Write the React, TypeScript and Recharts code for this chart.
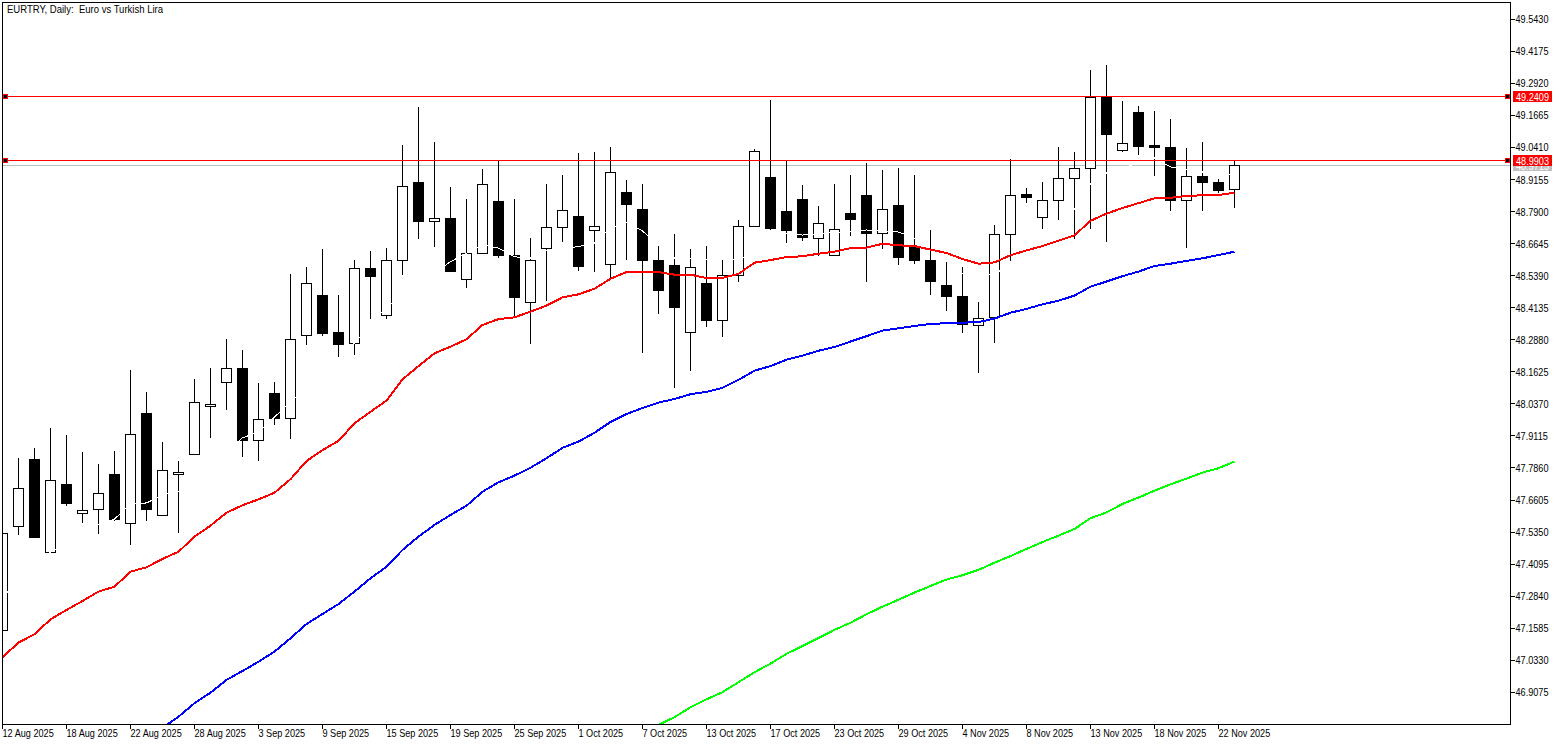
import { Bar, ComposedChart, Line, ReferenceLine, XAxis, YAxis } from "recharts";

const opens = [
  47.150, 47.558, 47.821, 47.456, 47.723, 47.609, 47.624, 47.761, 47.569, 48.001,
  47.601, 47.761, 47.840, 48.028, 48.122, 48.176, 47.894, 48.076, 47.981, 48.306,
  48.460, 48.317, 48.274, 48.569, 48.384, 48.599, 48.905, 48.752, 48.764, 48.525,
  48.627, 48.830, 48.619, 48.435, 48.646, 48.729, 48.772, 48.717, 48.584, 48.866,
  48.799, 48.599, 48.580, 48.317, 48.509, 48.364, 48.541, 48.732, 48.924, 48.791,
  48.838, 48.685, 48.619, 48.783, 48.854, 48.705, 48.815, 48.653, 48.599, 48.501,
  48.458, 48.345, 48.376, 48.701, 48.855, 48.768, 48.834, 48.920, 48.960, 49.240,
  49.030, 49.179, 49.047, 49.042, 48.834, 48.928, 48.905, 48.877,
];
const closes = [
  47.530, 47.706, 47.513, 47.738, 47.646, 47.620, 47.687, 47.583, 47.918, 47.623,
  47.777, 47.769, 48.043, 48.035, 48.176, 47.893, 47.977, 47.979, 48.290, 48.509,
  48.312, 48.269, 48.568, 48.535, 48.599, 48.888, 48.750, 48.764, 48.555, 48.627,
  48.897, 48.617, 48.453, 48.599, 48.729, 48.795, 48.574, 48.732, 48.944, 48.817,
  48.598, 48.480, 48.414, 48.572, 48.363, 48.541, 48.732, 49.026, 48.723, 48.715,
  48.688, 48.744, 48.721, 48.758, 48.703, 48.799, 48.610, 48.598, 48.516, 48.457,
  48.347, 48.372, 48.701, 48.854, 48.844, 48.834, 48.920, 48.960, 49.238, 49.091,
  49.057, 49.044, 49.040, 48.833, 48.928, 48.903, 48.872, 48.971,
];
const highs = [
  47.530, 47.825, 47.864, 47.943, 47.915, 47.849, 47.802, 47.852, 48.170, 48.084,
  47.888, 47.813, 48.134, 48.176, 48.290, 48.248, 48.118, 48.122, 48.544, 48.573,
  48.644, 48.463, 48.600, 48.636, 48.647, 49.051, 49.200, 49.063, 48.886, 48.839,
  48.957, 48.989, 48.839, 48.685, 48.898, 48.933, 49.020, 49.023, 49.043, 48.914,
  48.898, 48.655, 48.701, 48.644, 48.655, 48.604, 48.757, 49.034, 49.227, 48.988,
  48.893, 48.811, 48.898, 48.933, 48.980, 48.953, 48.961, 48.933, 48.718, 48.593,
  48.573, 48.436, 48.738, 48.996, 48.882, 48.906, 49.043, 49.023, 49.345, 49.364,
  49.223, 49.204, 49.184, 49.153, 49.039, 49.063, 48.918, 48.988,
];
const lows = [
  47.150, 47.525, 47.513, 47.456, 47.638, 47.572, 47.529, 47.580, 47.486, 47.580,
  47.601, 47.533, 47.840, 47.905, 48.014, 47.830, 47.815, 47.956, 47.901, 48.269,
  48.304, 48.222, 48.230, 48.371, 48.371, 48.543, 48.684, 48.653, 48.555, 48.492,
  48.627, 48.610, 48.378, 48.273, 48.440, 48.672, 48.559, 48.555, 48.529, 48.602,
  48.237, 48.390, 48.100, 48.167, 48.339, 48.300, 48.516, 48.732, 48.719, 48.668,
  48.676, 48.617, 48.619, 48.696, 48.516, 48.645, 48.582, 48.586, 48.465, 48.402,
  48.316, 48.159, 48.277, 48.598, 48.825, 48.723, 48.758, 48.684, 48.723, 48.672,
  49.025, 49.013, 48.931, 48.794, 48.649, 48.794, 48.864, 48.805,
];

const maRed = [
  47.045, 47.102, 47.135, 47.193, 47.230, 47.265, 47.302, 47.321, 47.380, 47.397,
  47.430, 47.458, 47.517, 47.560, 47.611, 47.640, 47.663, 47.689, 47.742, 47.813,
  47.856, 47.892, 47.961, 48.006, 48.050, 48.133, 48.185, 48.235, 48.261, 48.290,
  48.346, 48.369, 48.376, 48.398, 48.422, 48.454, 48.466, 48.488, 48.527, 48.553,
  48.553, 48.553, 48.543, 48.543, 48.530, 48.530, 48.546, 48.590, 48.600, 48.612,
  48.615, 48.625, 48.633, 48.647, 48.649, 48.664, 48.658, 48.655, 48.641, 48.628,
  48.604, 48.586, 48.591, 48.619, 48.638, 48.655, 48.676, 48.697, 48.754, 48.782,
  48.804, 48.823, 48.842, 48.844, 48.851, 48.854, 48.855, 48.864,
];
const maBlue = [
  null, null, null, null, null, null, null, null, null, null,
  46.768, 46.812, 46.865, 46.906, 46.956, 46.991, 47.027, 47.067, 47.119, 47.175,
  47.214, 47.253, 47.302, 47.354, 47.399, 47.465, 47.517, 47.563, 47.602, 47.638,
  47.693, 47.730, 47.756, 47.787, 47.824, 47.865, 47.889, 47.924, 47.966, 47.997,
  48.021, 48.042, 48.056, 48.075, 48.084, 48.100, 48.131, 48.167, 48.185, 48.210,
  48.226, 48.245, 48.260, 48.281, 48.302, 48.324, 48.333, 48.342, 48.350, 48.353,
  48.355, 48.357, 48.371, 48.394, 48.409, 48.427, 48.441, 48.461, 48.496, 48.516,
  48.537, 48.555, 48.577, 48.586, 48.597, 48.607, 48.620, 48.633,
];
const maGreen = [
  null, null, null, null, null, null, null, null, null, null,
  null, null, null, null, null, null, null, null, null, null,
  null, null, null, null, null, null, null, null, null, null,
  null, null, null, null, null, null, null, null, null, null,
  46.752, 46.780, 46.810, 46.849, 46.880, 46.908, 46.947, 46.986, 47.020, 47.058,
  47.089, 47.120, 47.152, 47.180, 47.213, 47.243, 47.270, 47.298, 47.324, 47.349,
  47.366, 47.387, 47.415, 47.441, 47.469, 47.496, 47.521, 47.547, 47.589, 47.612,
  47.645, 47.670, 47.697, 47.722, 47.744, 47.768, 47.785, 47.811,
];
// thin white average, only visible where it crosses the candles
const maWhite = [
  47.282, null, null, 47.457, null, null, 47.563, 47.586, 47.645, 47.649,
  47.680, 47.693, null, null, null, 47.904, 47.927, null, 48.044, null,
  null, null, 48.275, null, 48.417, null, null, null, 48.594, null,
  48.659, 48.647, 48.613, 48.608, 48.639, null, 48.653, 48.667, 48.726, 48.749,
  48.714, null, 48.608, null, null, null, 48.600, null, null, 48.706,
  48.698, null, null, null, 48.718, null, 48.710, 48.686, null, null,
  48.549, null, 48.541, null, null, null, null, 48.800, 48.898, 48.941,
  null, null, 49.000, 48.965, 48.953, 48.945, null, 48.933,
];

const dateLabels = [
  "12 Aug 2025", "18 Aug 2025", "22 Aug 2025", "28 Aug 2025", "3 Sep 2025",
  "9 Sep 2025", "15 Sep 2025", "19 Sep 2025", "25 Sep 2025", "1 Oct 2025",
  "7 Oct 2025", "13 Oct 2025", "17 Oct 2025", "23 Oct 2025", "29 Oct 2025",
  "4 Nov 2025", "8 Nov 2025", "13 Nov 2025", "18 Nov 2025", "22 Nov 2025",
];
const dateTicks = [0, 4, 8, 12, 16, 20, 24, 28, 32, 36, 40, 44, 48, 52, 56, 60, 64, 68, 72, 76];
const priceTicks = [
  49.543, 49.4175, 49.292, 49.1665, 49.041, 48.9155, 48.79, 48.6645, 48.539, 48.4135, 48.288,
  48.1625, 48.037, 47.9115, 47.786, 47.6605, 47.535, 47.4095, 47.284, 47.1585, 47.033, 46.9075,
];
const levelTop = 49.2409;
const levelMid = 48.9903;
const bidPrice = 48.9713;

const rows = opens.map((open, i) => ({
  i,
  open,
  close: closes[i],
  high: highs[i],
  low: lows[i],
  range: [lows[i], highs[i]],
  red: maRed[i],
  blue: maBlue[i],
  green: maGreen[i],
  white: maWhite[i],
}));

const FONT = '"Liberation Sans", sans-serif';

// the terminal font is narrower than anything installed, so squeeze it horizontally
function NarrowText({ x, y, fill = "#000", children }: any) {
  return (
    <text
      transform={`translate(${x} ${y}) scale(0.83 1)`}
      fontFamily={FONT}
      fontSize={11}
      fill={fill}
    >
      {children}
    </text>
  );
}

function Candle(props: any) {
  const { x, y, width, height, payload } = props;
  const { open, close, high, low } = payload;
  const cx = Math.floor(x + width / 2) + 0.5;
  const perUnit = height / (high - low);
  const top = y + (high - Math.max(open, close)) * perUnit;
  const bottom = y + (high - Math.min(open, close)) * perUnit;
  return (
    <g shapeRendering="crispEdges">
      <line x1={cx} x2={cx} y1={y} y2={y + height} stroke="#000" />
      <rect
        x={cx - 5}
        y={top}
        width={10}
        height={Math.max(bottom - top, 1)}
        fill={close >= open ? "#fff" : "#000"}
        stroke="#000"
      />
    </g>
  );
}

function DateTick({ x, y, payload }: any) {
  return (
    <NarrowText x={x} y={y + 8.5}>
      {dateLabels[dateTicks.indexOf(payload.value)]}
    </NarrowText>
  );
}

function PriceTick({ x, y, payload }: any) {
  return (
    <NarrowText x={x} y={y + 4}>
      {payload.value.toFixed(4)}
    </NarrowText>
  );
}

function priceLevel(value: number, color: string, handles: boolean) {
  return ({ x1, x2, y1 }: any) => {
    const cy = Math.floor(y1) + 0.5;
    return (
      <g shapeRendering="crispEdges">
        <line x1={x1} x2={x2} y1={cy} y2={cy} stroke={color} />
        {handles && <rect x={3.5} y={cy - 2} width={4} height={4} fill="#000" stroke={color} />}
        {handles && <rect x={1505.5} y={cy - 2} width={4} height={4} fill="#000" stroke={color} />}
        <rect x={1513} y={cy - 5.5} width={39} height={11} fill={color} />
        <NarrowText x={1516} y={cy + 4} fill="#fff">
          {value.toFixed(4)}
        </NarrowText>
      </g>
    );
  };
}

export default function App() {
  return (
    <div style={{ position: "absolute", left: 0, top: 0, width: 1563, height: 745 }}>
      <style>{".recharts-line-curve{shape-rendering:crispEdges}"}</style>
      <ComposedChart
        width={1563}
        height={745}
        data={rows}
        margin={{ top: 2.5, right: 0, bottom: 0, left: 2.5 }}
      >
        <XAxis
          type="number"
          dataKey="i"
          domain={[0, 94.25]}
          allowDataOverflow
          ticks={dateTicks}
          axisLine={false}
          tickLine={{ stroke: "#000", shapeRendering: "crispEdges" }}
          tickSize={4}
          tickMargin={0}
          height={20.5}
          interval={0}
          tick={<DateTick />}
        />
        <YAxis
          orientation="right"
          domain={[46.7814, 49.6088]}
          allowDataOverflow
          ticks={priceTicks}
          axisLine={false}
          tickLine={{ stroke: "#000", shapeRendering: "crispEdges" }}
          tickSize={4}
          tickMargin={1}
          width={52.5}
          interval={0}
          tick={<PriceTick />}
        />
        <ReferenceLine y={bidPrice} zIndex={100} shape={priceLevel(bidPrice, "#c0c0c0", false)} />
        <Bar dataKey="range" barSize={11} shape={<Candle />} isAnimationActive={false} />
        <Line dataKey="white" stroke="#fff" strokeWidth={1} dot={false} connectNulls isAnimationActive={false} />
        <Line dataKey="green" stroke="#00ff00" strokeWidth={2} dot={false} isAnimationActive={false} />
        <Line dataKey="blue" stroke="#0000ff" strokeWidth={2} dot={false} isAnimationActive={false} />
        <Line dataKey="red" stroke="#ff0000" strokeWidth={2} dot={false} isAnimationActive={false} />
        <ReferenceLine y={levelMid} isFront zIndex={900} shape={priceLevel(levelMid, "#ff0000", true)} />
        <ReferenceLine y={levelTop} isFront zIndex={900} shape={priceLevel(levelTop, "#ff0000", true)} />
      </ComposedChart>
      <div
        style={{
          position: "absolute",
          left: 2,
          top: 2,
          width: 1509,
          height: 723,
          boxSizing: "border-box",
          border: "1px solid #000",
          pointerEvents: "none",
        }}
      />
      <div
        style={{
          position: "absolute",
          left: 7,
          top: 3,
          fontFamily: FONT,
          fontSize: 11,
          whiteSpace: "pre",
          color: "#000",
          transform: "scaleX(0.865)",
          transformOrigin: "left top",
        }}
      >
        {"EURTRY, Daily:  Euro vs Turkish Lira"}
      </div>
    </div>
  );
}
